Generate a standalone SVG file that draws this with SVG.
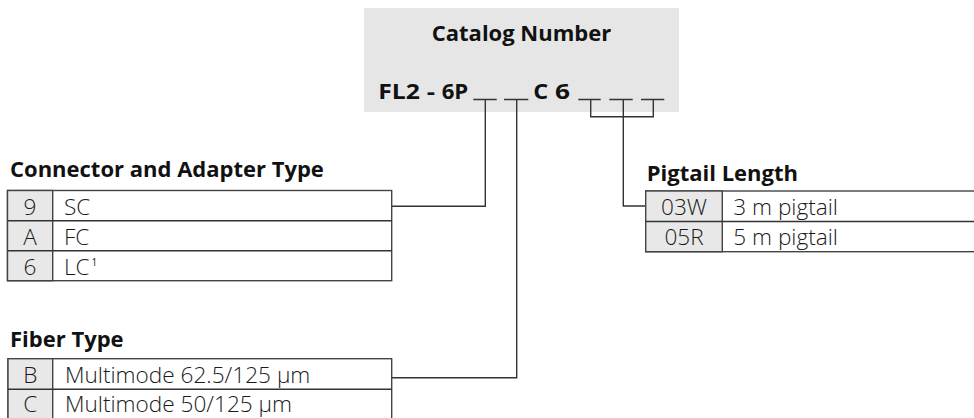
<svg xmlns="http://www.w3.org/2000/svg" width="974" height="418" viewBox="0 0 974 418">
<style>
.hdr{font-family:"Open Sans","DejaVu Sans",sans-serif;font-weight:bold;font-size:22px;fill:#111}
.cell{font-family:"Open Sans","DejaVu Sans",sans-serif;font-weight:300;font-size:22.6px;fill:#1a1a1a}
.code{text-anchor:middle}
.tbl{fill:#fff;stroke:#444;stroke-width:1.4}
.codebg{fill:#e8e8e8;stroke:#444;stroke-width:1.4}
.ln{fill:none;stroke:#333;stroke-width:1.4}
</style>
<rect width="974" height="418" fill="#fff"/>
<g id="catalog">
<rect x="364" y="8" width="315" height="104" fill="#e6e6e6"/>
<text class="hdr" x="521.5" y="40.7" text-anchor="middle">Catalog Number</text>
<text class="hdr" x="378.3" y="99" textLength="41.7" lengthAdjust="spacingAndGlyphs">FL2</text>
<text class="hdr" x="426.7" y="99" textLength="8.3" lengthAdjust="spacingAndGlyphs">-</text>
<text class="hdr" x="441.7" y="99" textLength="26.6" lengthAdjust="spacingAndGlyphs">6P</text>
<text class="hdr" x="533.3" y="99" textLength="15" lengthAdjust="spacingAndGlyphs">C</text>
<text class="hdr" x="555" y="99" textLength="15" lengthAdjust="spacingAndGlyphs">6</text>
</g>
<g id="connectors">
<path class="ln" d="M473.3 99.5H496.7M504 99.5H528.3M578.3 99.5H600.7M609.3 99.5H632.7M641 99.5H664.3"/>
<path class="ln" d="M485.3 99.5V206.3H391.7"/>
<path class="ln" d="M516.7 99.5V377.7H391.7"/>
<path class="ln" d="M590.7 99.5V116.7H653.3V99.5M623.3 99.5V206H645.7"/>
</g>
<g id="connector-type">
<text class="hdr" x="10" y="177.3">Connector and Adapter Type</text>
<rect class="tbl" x="7.5" y="190.5" width="384.2" height="90.2"/>
<rect class="codebg" x="7.5" y="190.5" width="45.2" height="90.2"/>
<path class="ln" d="M7.5 220.7H391.7M7.5 250.7H391.7"/>
<text class="cell code" x="30" y="214.5">9</text>
<text class="cell" x="64" y="214.5">SC</text>
<text class="cell code" x="30" y="244.5">A</text>
<text class="cell" x="64" y="244.5">FC</text>
<text class="cell code" x="30" y="274.5">6</text>
<text class="cell" x="64" y="274.5">LC<tspan font-size="10" font-weight="normal" dy="-8.5" dx="2">1</tspan></text>
</g>
<g id="fiber-type">
<text class="hdr" x="10" y="347">Fiber Type</text>
<rect class="tbl" x="8" y="358.7" width="383.7" height="62"/>
<rect class="codebg" x="8" y="358.7" width="44.7" height="62"/>
<path class="ln" d="M8 389.3H391.7"/>
<text class="cell code" x="30.3" y="382.7">B</text>
<text class="cell" x="65" y="382.7">Multimode 62.5/125 µm</text>
<text class="cell code" x="30.3" y="411.5">C</text>
<text class="cell" x="65" y="411.5">Multimode 50/125 µm</text>
</g>
<g id="pigtail-length">
<text class="hdr" x="646.7" y="180.7">Pigtail Length</text>
<rect class="tbl" x="645.7" y="191" width="340" height="60.7"/>
<rect class="codebg" x="645.7" y="191" width="76.6" height="60.7"/>
<path class="ln" d="M645.7 221.5H980"/>
<text class="cell code" x="684" y="214.5">03W</text>
<text class="cell" x="733.3" y="214.5">3 m pigtail</text>
<text class="cell code" x="684" y="244.7">05R</text>
<text class="cell" x="733.3" y="244.7">5 m pigtail</text>
</g>
</svg>
